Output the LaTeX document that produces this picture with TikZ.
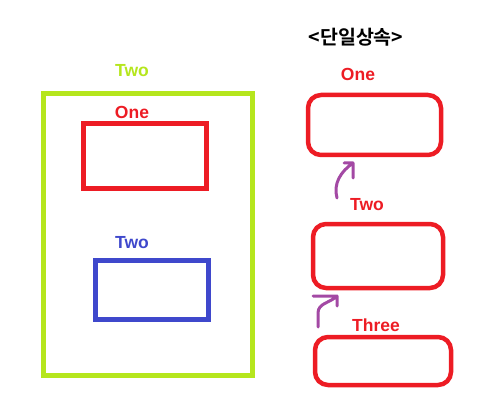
\documentclass[tikz,border=0pt]{standalone}
\usepackage{fontspec}
\setmainfont{Liberation Sans}
\newfontfamily\krfont{Noto Sans CJK KR Bold}
\usetikzlibrary{positioning}

\definecolor{pred}{HTML}{ED1C24}
\definecolor{plime}{HTML}{B5E61D}
\definecolor{pblue}{HTML}{3F48CC}
\definecolor{ppurple}{HTML}{A349A4}

\begin{document}
\begin{tikzpicture}[
  x=1pt, y=1pt,
  lbl/.style={font=\bfseries\fontsize{17.5}{20}\selectfont, inner sep=0pt},
  frame/.style={draw, line width=5pt, inner sep=0pt},
  cls/.style={draw=pred, line width=4.5pt, rounded corners=13pt, inner sep=0pt},
  inh/.style={draw=ppurple, line width=3pt, line cap=round, line join=round},
]
\useasboundingbox (0,0) rectangle (487,-406);

% left: nested boxes
\node[frame, draw=plime, minimum width=209pt, minimum height=281pt] (outer) at (147.5,-234.5) {};
\node[frame, draw=pred, minimum width=123pt, minimum height=65pt] (inner1) at (144.5,-156.5) {};
\node[frame, draw=pblue, minimum width=113pt, minimum height=59pt] (inner2) at (151.5,-289.5) {};

\node[lbl, text=plime] (outerlbl) at (132,-71) {Two};
\node[lbl, text=pred] (inner1lbl) at (132,-112) {One};
\node[lbl, text=pblue] (inner2lbl) at (132,-243) {Two};

% right: single inheritance chain
\node[font=\krfont\fontsize{19.5}{22}\selectfont, inner sep=0pt] (title) at (356,-37) {<단일상속>};

\node[cls, minimum width=133pt, minimum height=60pt] (one) at (374.5,-125) {};
\node[cls, minimum width=130pt, minimum height=64pt] (two) at (378,-256) {};
\node[cls, minimum width=136pt, minimum height=48pt] (three) at (383,-361) {};

\node[lbl, text=pred] (onelbl) at (358,-74) {One};
\node[lbl, text=pred] (twolbl) at (367,-205) {Two};
\node[lbl, text=pred] (threelbl) at (376,-325) {Three};

% hand drawn arrows
\coordinate (a1s) at (337,-198);
\coordinate (a1t) at (353,-163);
\coordinate (a2s) at (318,-327);
\coordinate (a2t) at (337,-296);

\draw[inh] (a1s) to[out=105, in=215] (a1t) -- ++(0,-15) (a1t) -- ++(-9,0);
\draw[inh] (a2s) -- ++(0,14) to[out=90, in=225] (a2t) -- ++(0,-10) (a2t) -- ++(-24,0);

\end{tikzpicture}
\end{document}
